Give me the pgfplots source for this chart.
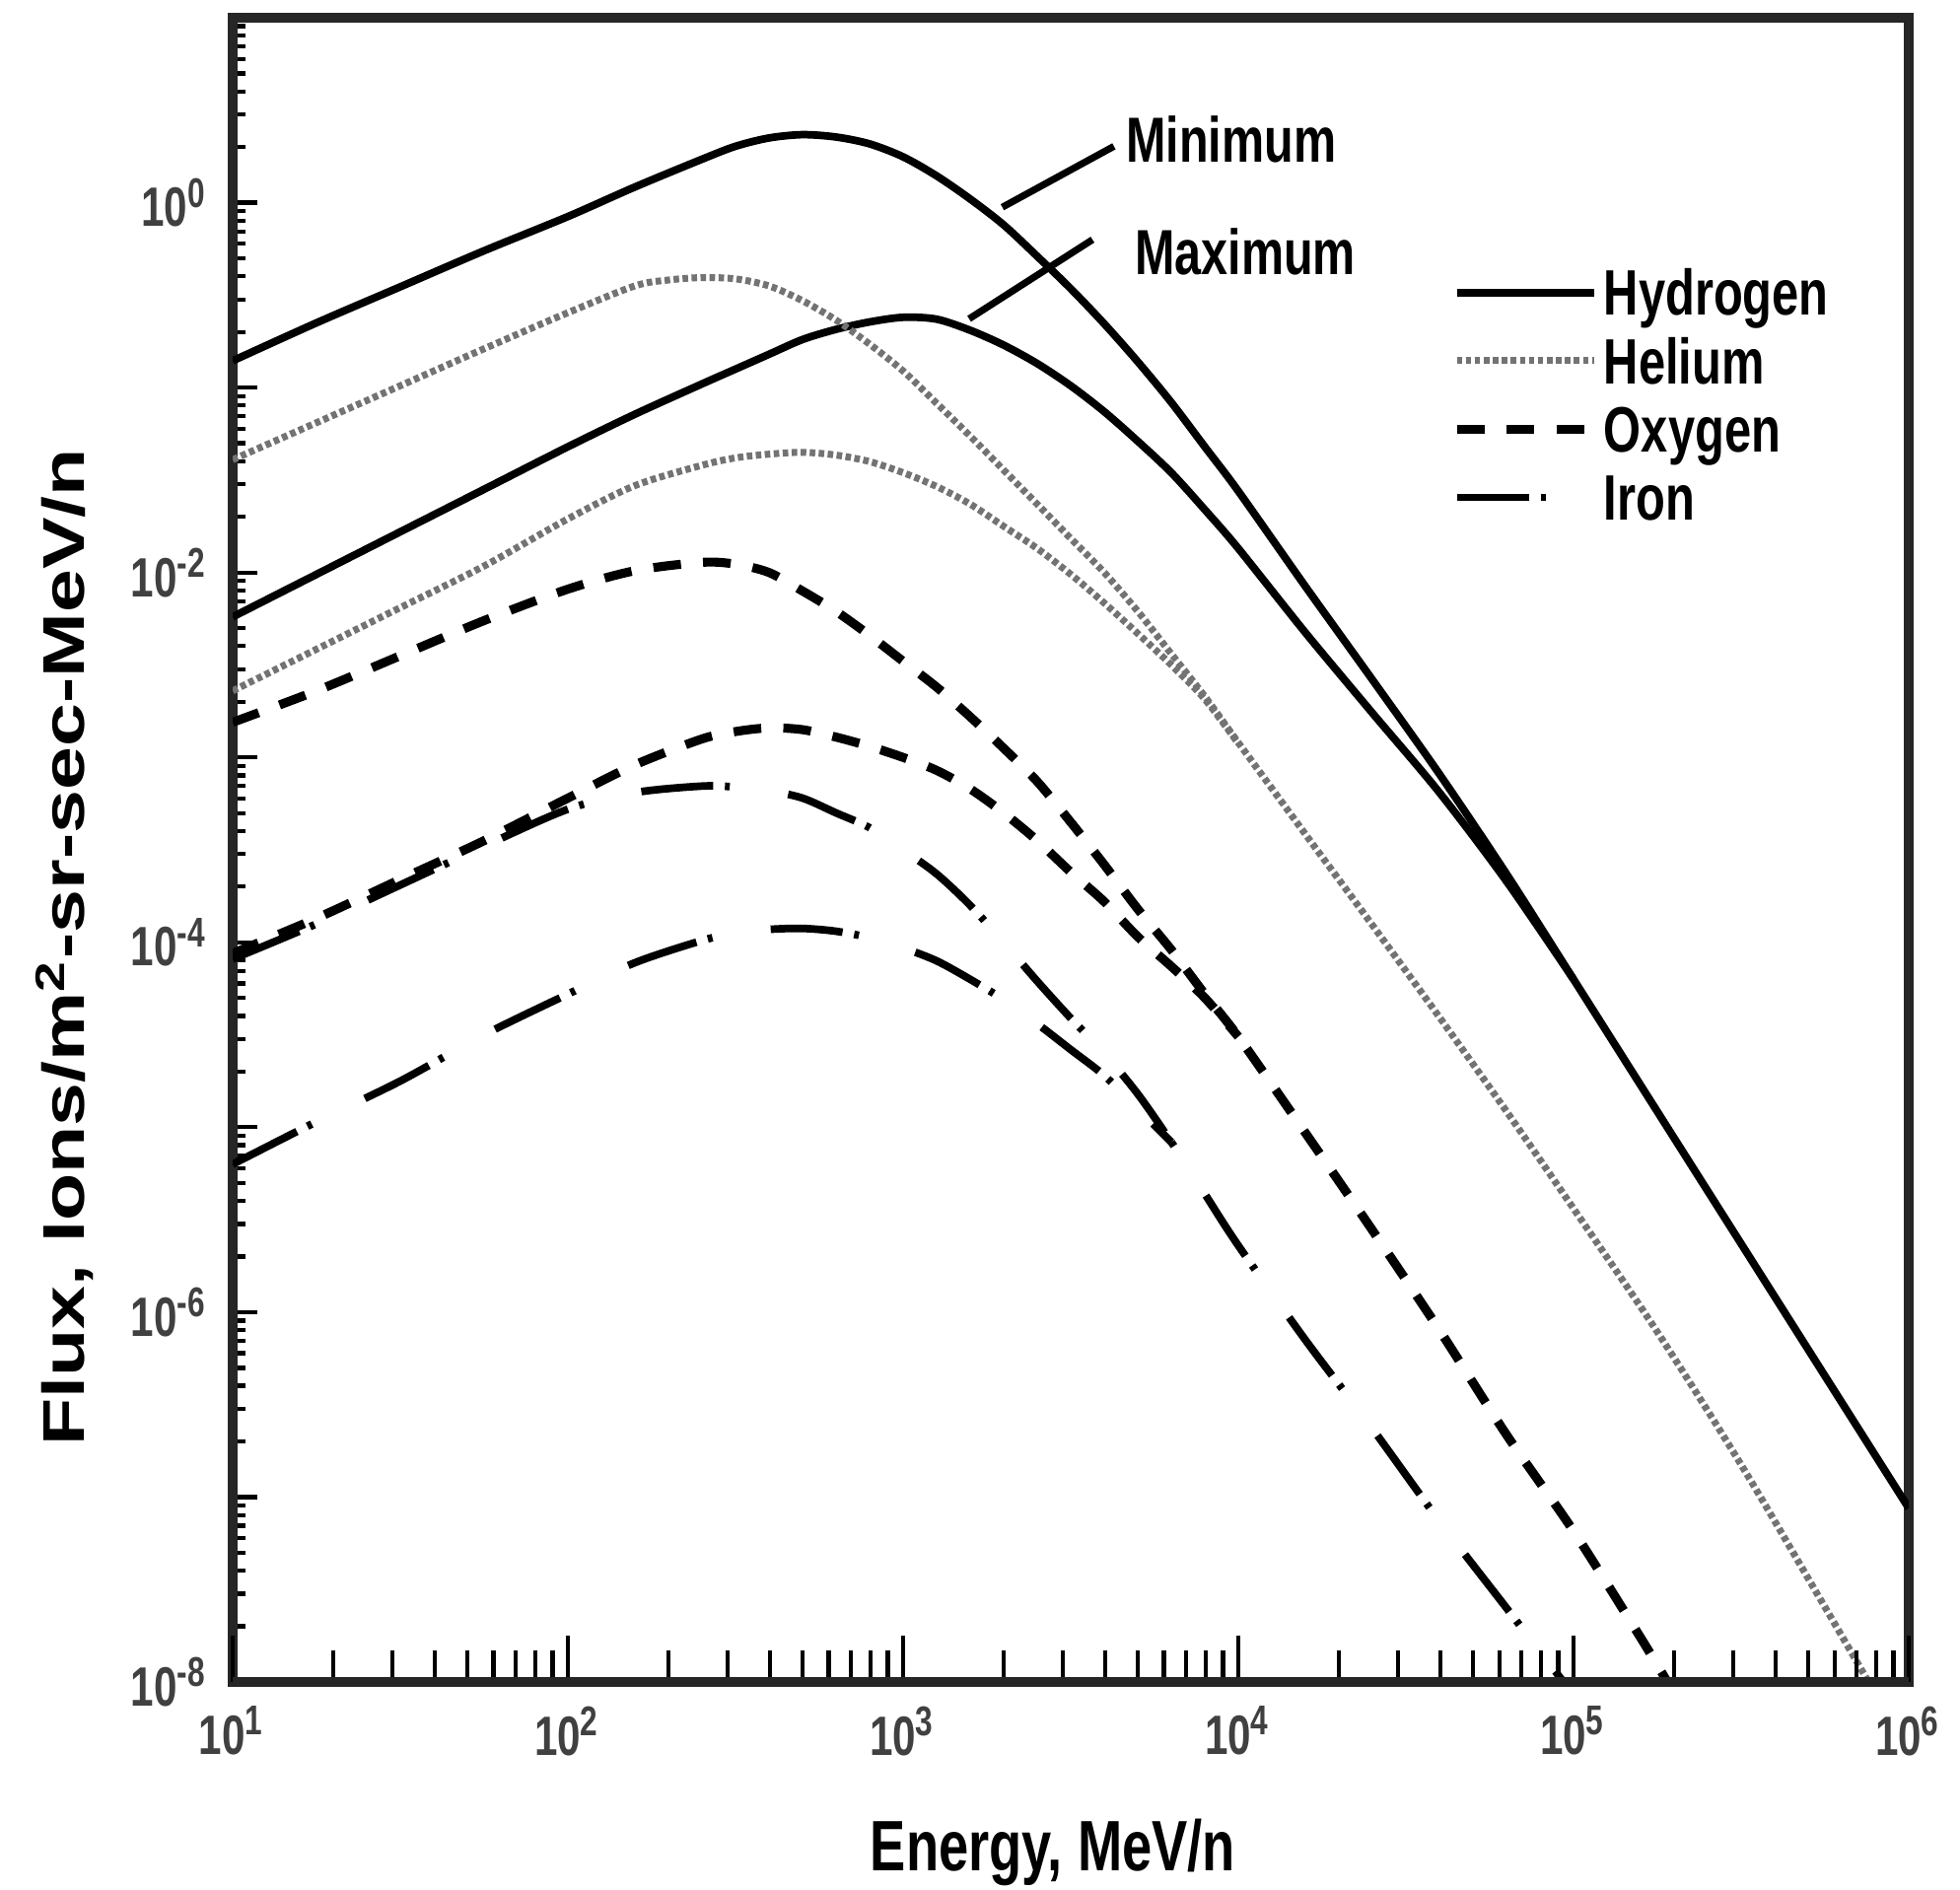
\documentclass[border=0pt]{standalone}
\usepackage{fontspec}
\setmainfont{Liberation Sans}[FakeStretch=0.75]
\newfontfamily\yfont{Liberation Sans}[FakeStretch=1.32]
\usepackage{pgfplots}
\pgfplotsset{compat=1.18}
\tikzset{
 hstyle/.style={black, line width=1.1pt, solid},
 hestyle/.style={black!55, line width=1.0pt, dash pattern=on 0.8pt off 0.5pt},
 ostyle/.style={black, line width=1.3pt, dash pattern=on 4pt off 3.2pt},
 festyle/.style={black, line width=1.1pt, dash pattern=on 10.4pt off 1.7pt on 0.7pt off 8.5pt},
}
\begin{document}
\begin{tikzpicture}
\useasboundingbox (-11.8mm,-10.5mm) rectangle (87.6mm,85.3mm);
\begin{axis}[
 scale only axis, width=85mm, height=84.4mm,
 xmode=log, ymode=log,
 xmin=10, xmax=1e6, ymin=1e-8, ymax=10,
 xtick=\empty,
 ytick={1e-8,1e-7,1e-6,1e-5,1e-4,1e-3,1e-2,1e-1,1},
 yticklabels={10\textsuperscript{-8},{},10\textsuperscript{-6},{},10\textsuperscript{-4},{},10\textsuperscript{-2},{},10\textsuperscript{0}},
 minor ytick={2e-8,3e-8,4e-8,5e-8,6e-8,7e-8,8e-8,9e-8,2e-7,3e-7,4e-7,5e-7,6e-7,7e-7,8e-7,9e-7,2e-6,3e-6,4e-6,5e-6,6e-6,7e-6,8e-6,9e-6,2e-5,3e-5,4e-5,5e-5,6e-5,7e-5,8e-5,9e-5,2e-4,3e-4,4e-4,5e-4,6e-4,7e-4,8e-4,9e-4,2e-3,3e-3,4e-3,5e-3,6e-3,7e-3,8e-3,9e-3,2e-2,3e-2,4e-2,5e-2,6e-2,7e-2,8e-2,9e-2,2e-1,3e-1,4e-1,5e-1,6e-1,7e-1,8e-1,9e-1,2,3,4,5,6,7,8,9},
 ytick pos=left,
 tick align=inside,
 major tick length=3.6pt, minor tick length=1.9pt,
 tick style={line width=0.6pt, black},
 axis line style={line width=1.4pt, black!85},
 yticklabel style={font=\fontsize{8}{9}\selectfont\bfseries, text=black!75},
 xlabel={Energy, MeV/n},
 ylabel={\yfont\bfseries Flux, Ions/m\textsuperscript{2}-sr-sec-MeV/n},
 xlabel style={at={(axis description cs:0.4894,-0.1137)}, anchor=base, font=\fontsize{10.3}{12}\selectfont\bfseries},
 ylabel style={at={(axis description cs:-0.0888,0.4414)}, anchor=base, font=\fontsize{8.5}{10}\selectfont},
 legend style={draw=none, fill=none, at={(axis description cs:0.7268,0.8495)}, anchor=north west, inner sep=0pt, row sep=3.25pt, font=\fontsize{9.26}{11}\selectfont\bfseries, nodes={inner sep=0pt, text height=6.6pt, text depth=0pt}, /tikz/every odd column/.append style={column sep=0.8pt}},
 legend image code/.code={\draw[#1] (0pt,0pt) -- (19.8pt,0pt);},
 legend cell align=left,
]
\addlegendimage{hstyle}\addlegendentry{Hydrogen}
\addlegendimage{hestyle}\addlegendentry{Helium}
\addlegendimage{ostyle}\addlegendentry{Oxygen}
\addlegendimage{festyle}\addlegendentry{Iron}
% Hydrogen, solar minimum
\addplot[smooth, tension=0.5, hstyle, forget plot] coordinates {(10,1.396e-1) (17.78,2.239e-1) (31.62,3.508e-1) (56.23,5.495e-1) (100,8.414e-1) (158.5,1.216) (251.2,1.718) (316.2,2.018) (398.1,2.239) (501.2,2.333) (631,2.265) (794.3,2.080) (1000,1.770) (1259,1.396) (1585,1.047) (1995,0.7586) (2512,0.5129) (3162,0.3428) (3981,0.2213) (5012,0.1380) (6310,8.318e-2) (7943,4.786e-2) (10000,2.754e-2) (15850,8.414e-3) (25120,2.630e-3) (39810,8.128e-4) (63100,2.344e-4) (100000,6.310e-5) (177800,1.216e-5) (316200,2.344e-6) (562300,4.519e-7) (1000000,8.710e-8)};
% Hydrogen, solar maximum
\addplot[smooth, tension=0.5, hstyle, forget plot] coordinates {(10,5.754e-3) (17.78,9.772e-3) (31.62,1.660e-2) (56.23,2.818e-2) (100,4.786e-2) (158.5,7.178e-2) (251.2,0.1047) (316.2,0.1259) (398.1,0.1514) (501.2,0.1820) (631,0.2065) (794.3,0.2265) (1000,0.2399) (1259,0.2344) (1585,0.2042) (1995,0.1698) (2512,0.1349) (3162,0.1023) (3981,7.413e-2) (5012,5.129e-2) (6310,3.467e-2) (7943,2.188e-2) (10000,1.349e-2) (15850,4.732e-3) (25120,1.738e-3) (39810,6.457e-4) (63100,2.138e-4) (100000,6.310e-5)};
% Helium, minimum
\addplot[smooth, tension=0.5, hestyle, forget plot] coordinates {(10,4.074e-2) (17.78,6.457e-2) (31.62,0.1023) (56.23,0.1622) (100,0.2541) (158.5,0.3548) (199.5,0.3819) (251.2,0.3936) (316.2,0.3873) (398.1,0.3548) (501.2,0.2951) (631,0.2317) (794.3,0.1718) (1000,0.1230) (1259,8.222e-2) (1585,5.470e-2) (1995,3.581e-2) (2512,2.344e-2) (3162,1.528e-2) (3981,1.0e-2) (5012,6.166e-3) (6310,3.631e-3) (7943,2.138e-3) (10000,1.202e-3) (15850,3.846e-4) (25120,1.239e-4) (39810,3.936e-5) (63100,1.219e-5) (100000,3.631e-6) (177800,7.816e-7) (316200,1.496e-7) (562300,2.541e-8) (758600,1e-8)};
% Helium, maximum
\addplot[smooth, tension=0.5, hestyle, forget plot] coordinates {(10,2.291e-3) (17.78,3.846e-3) (31.62,6.457e-3) (56.23,1.084e-2) (100,1.950e-2) (158.5,2.951e-2) (251.2,3.802e-2) (316.2,4.169e-2) (398.1,4.365e-2) (501.2,4.467e-2) (631,4.315e-2) (794.3,3.981e-2) (1000,3.467e-2) (1259,2.917e-2) (1585,2.344e-2) (1995,1.778e-2) (2512,1.349e-2) (3162,9.772e-3) (3981,6.839e-3) (5012,4.677e-3) (6310,3.162e-3) (7943,2.065e-3) (10000,1.189e-3)};
% Oxygen, minimum
\addplot[smooth, tension=0.5, ostyle, forget plot] coordinates {(10,1.549e-3) (17.78,2.291e-3) (31.62,3.548e-3) (56.23,5.495e-3) (100,8.128e-3) (158.5,1.023e-2) (251.2,1.135e-2) (316.2,1.109e-2) (398.1,1.0e-2) (501.2,7.943e-3) (631,6.166e-3) (794.3,4.571e-3) (1000,3.311e-3) (1259,2.399e-3) (1585,1.660e-3) (1995,1.122e-3) (2512,7.413e-4) (3162,4.467e-4) (3981,2.630e-4) (5012,1.514e-4) (6310,9.120e-5) (7943,5.248e-5) (10000,3.090e-5) (15850,9.333e-6) (25120,2.773e-6) (39810,7.998e-7) (63100,2.173e-7) (100000,6.546e-8) (158500,1.738e-8) (190500,1e-8)};
% Oxygen, maximum
\addplot[smooth, tension=0.5, ostyle, forget plot] coordinates {(10,8.710e-5) (17.78,1.349e-4) (31.62,2.188e-4) (56.23,3.548e-4) (100,6.026e-4) (158.5,9.120e-4) (251.2,1.259e-3) (316.2,1.380e-3) (398.1,1.445e-3) (501.2,1.413e-3) (631,1.288e-3) (794.3,1.148e-3) (1000,1.0e-3) (1259,8.511e-4) (1585,6.761e-4) (1995,5.012e-4) (2512,3.548e-4) (3162,2.399e-4) (3981,1.660e-4) (5012,1.072e-4) (6310,7.413e-5) (7943,5.012e-5) (10000,3.090e-5)};
% Iron, minimum
\addplot[smooth, tension=0.5, festyle, forget plot] coordinates {(10,8.128e-5) (17.78,1.259e-4) (31.62,2.042e-4) (56.23,3.311e-4) (100,5.248e-4) (158.5,6.457e-4) (251.2,6.998e-4) (316.2,6.918e-4) (398.1,6.607e-4) (501.2,6.026e-4) (631,5.012e-4) (794.3,4.169e-4) (1000,3.162e-4) (1259,2.344e-4) (1585,1.585e-4) (1995,1.0e-4) (2512,6.166e-5) (3162,3.890e-5) (3981,2.512e-5) (5012,1.514e-5) (6310,8.318e-6) (7943,4.365e-6) (10000,2.291e-6) (15850,7.079e-7) (25120,2.344e-7) (39810,7.413e-8) (63100,2.512e-8) (93330,1e-8)};
% Iron, maximum
\addplot[smooth, tension=0.5, festyle, forget plot] coordinates {(10,6.310e-6) (17.78,1.072e-5) (31.62,1.778e-5) (56.23,3.162e-5) (100,5.248e-5) (158.5,7.762e-5) (251.2,1.023e-4) (316.2,1.122e-4) (398.1,1.175e-4) (501.2,1.189e-4) (631,1.148e-4) (794.3,1.059e-4) (1000,9.333e-5) (1259,7.943e-5) (1585,6.310e-5) (1995,4.898e-5) (2512,3.631e-5) (3162,2.630e-5) (3981,1.905e-5) (5012,1.259e-5) (6310,8.318e-6)};
% annotations
\draw[black, line width=1pt] (axis cs:1977,0.945) -- (axis cs:4256,2.018);
\node[font=\fontsize{9.2}{11}\selectfont\bfseries] at (axis cs:9528,2.208) {Minimum};
\draw[black, line width=1pt] (axis cs:1574,0.2355) -- (axis cs:3673,0.631);
\node[font=\fontsize{9.2}{11}\selectfont\bfseries] at (axis cs:10495,0.543) {Maximum};
\end{axis}
\begin{axis}[
 scale only axis, width=85mm, height=84.4mm,
 xmode=log, ymode=log,
 xmin=10, xmax=1e6, ymin=1e-8, ymax=10,
 axis x line*=bottom, hide y axis,
 xtick={10,100,1000,10000,100000,1000000},
 xticklabels={10\textsuperscript{1},10\textsuperscript{2},10\textsuperscript{3},10\textsuperscript{4},10\textsuperscript{5},10\textsuperscript{6}},
 minor xtick={20,30,40,50,60,70,80,90,200,300,400,500,600,700,800,900,2000,3000,4000,5000,6000,7000,8000,9000,20000,30000,40000,50000,60000,70000,80000,90000,200000,300000,400000,500000,600000,700000,800000,900000},
 tick align=inside,
 major tick length=6.7pt, minor tick length=4.5pt,
 tick style={line width=0.6pt, black},
 x axis line style={line width=1.4pt, black!85, -},
 xticklabel style={font=\fontsize{8}{9}\selectfont\bfseries, text=black!75},
]
\end{axis}
\end{tikzpicture}
\end{document}
